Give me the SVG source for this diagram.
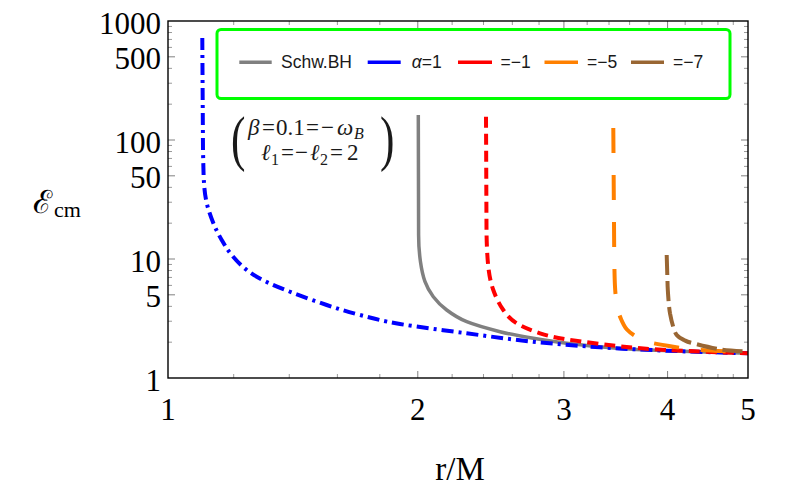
<svg xmlns="http://www.w3.org/2000/svg" width="789" height="489" viewBox="0 0 789 489">
<style>
.tm{stroke:#9a9a9a;stroke-width:1;fill:none}
.tM{stroke:#808080;stroke-width:1;fill:none}
.num{font-family:"Liberation Serif","DejaVu Serif",serif;font-size:31px;fill:#000}
.ylab{text-anchor:end}
.xlab{text-anchor:middle}
.crv{fill:none;stroke-linecap:butt;stroke-linejoin:round}
.leg{font-family:"Liberation Sans",Arial,sans-serif;font-size:17.5px;fill:#1a1a1a}
.ann{font-family:"Liberation Serif","DejaVu Serif",serif;font-size:23px;fill:#1a1a1a}
.par{font-family:"Liberation Serif","DejaVu Serif",serif;font-size:62px;fill:#1a1a1a}
.it{font-style:italic}
.sub{font-size:16px}
</style>
<defs>
<clipPath id="plotclip"><rect x="168" y="21" width="580" height="357"/></clipPath>
</defs>
<rect width="789" height="489" fill="#fff"/>

<g id="ticks">
<path class="tm" d="M168,342.18h4M168,321.22h4M168,306.35h4M168,285.4h4M168,277.43h4M168,270.53h4M168,264.45h4M168,223.18h4M168,202.22h4M168,187.35h4M168,166.4h4M168,158.43h4M168,151.53h4M168,145.45h4M168,104.18h4M168,83.22h4M168,68.35h4M168,47.4h4M168,39.43h4M168,32.53h4M168,26.45h4"/>
<path class="tM" d="M168,294.82h7M168,259h7M168,175.82h7M168,140h7M168,56.82h7"/>
<path class="tm" d="M748,342.18h-4M748,321.22h-4M748,306.35h-4M748,285.4h-4M748,277.43h-4M748,270.53h-4M748,264.45h-4M748,223.18h-4M748,202.22h-4M748,187.35h-4M748,166.4h-4M748,158.43h-4M748,151.53h-4M748,145.45h-4M748,104.18h-4M748,83.22h-4M748,68.35h-4M748,47.4h-4M748,39.43h-4M748,32.53h-4M748,26.45h-4"/>
<path class="tM" d="M748,294.82h-7M748,259h-7M748,175.82h-7M748,140h-7M748,56.82h-7"/>
<path class="tm" d="M233.7,378v-4M289.26,378v-4M337.38,378v-4M379.82,378v-4M452.14,378v-4M483.49,378v-4M512.34,378v-4M539.04,378v-4M587.16,378v-4M609.01,378v-4M629.61,378v-4M649.09,378v-4M685.16,378v-4M701.93,378v-4M717.95,378v-4M733.28,378v-4"/>
<path class="tM" d="M417.79,378v-7M563.91,378v-7M667.58,378v-7"/>
<path class="tm" d="M233.7,21v4M289.26,21v4M337.38,21v4M379.82,21v4M452.14,21v4M483.49,21v4M512.34,21v4M539.04,21v4M587.16,21v4M609.01,21v4M629.61,21v4M649.09,21v4M685.16,21v4M701.93,21v4M717.95,21v4M733.28,21v4"/>
<path class="tM" d="M417.79,21v7M563.91,21v7M667.58,21v7"/>
</g>

<g id="axis-labels">
<text class="num ylab" x="161" y="33.5">1000</text>
<text class="num ylab" x="161" y="68.5">500</text>
<text class="num ylab" x="161" y="152.5">100</text>
<text class="num ylab" x="161" y="188">50</text>
<text class="num ylab" x="161" y="272">10</text>
<text class="num ylab" x="161" y="307">5</text>
<text class="num ylab" x="161" y="391">1</text>
<text class="num xlab" x="168" y="420">1</text>
<text class="num xlab" x="417.8" y="420">2</text>
<text class="num xlab" x="563.9" y="420">3</text>
<text class="num xlab" x="667.6" y="420">4</text>
<text class="num xlab" x="748" y="420">5</text>
<text id="xlabel" x="460" y="480" text-anchor="middle" font-family="Liberation Serif, DejaVu Serif, serif" font-size="33" fill="#000">r/M</text>
<text id="ylabel" x="33" y="213" font-family="Liberation Serif, DejaVu Serif, serif" font-size="32" fill="#000">ℰ<tspan x="54" y="217" font-size="22">cm</tspan></text>
</g>

<g id="connectors" clip-path="url(#plotclip)">
<path id="curve-schw" class="crv" stroke="#808080" stroke-width="3.5" d="M418.3,115L418.6,235C418.6,245 419.4,254.2 420.5,262C421.6,269.8 422.9,275.9 425,281.7C427.1,287.5 429.7,292 433.3,296.7C436.9,301.4 441.1,305.8 446.7,310C452.3,314.2 457.8,318.1 466.7,321.7C475.6,325.3 488.9,328.9 500,331.7C511.1,334.5 522.2,336.4 533.3,338.3C544.4,340.2 552.8,341.6 566.7,343.3C580.6,345 600,347.1 616.7,348.3C633.4,349.5 645,349.9 666.7,350.7C688.4,351.5 733.4,352.9 750,353.4"/>
<path id="curve-alpha1" class="crv" stroke="#0000ff" stroke-width="4" stroke-dasharray="12 5 3 5" d="M202.3,38L203,150C203.3,162 203.4,174.2 204,183C204.6,191.8 205.2,196.3 206.7,203C208.3,209.7 210.8,216.8 213.3,223C215.8,229.2 218.6,234.7 221.7,240C224.8,245.3 227.5,250 231.7,255C235.9,260 240.9,265.5 246.7,270C252.5,274.5 258.9,278.2 266.7,282C274.5,285.8 283.3,289.2 293.3,293C303.3,296.8 315.6,301.3 326.7,305C337.8,308.7 347.8,311.8 360,315C372.2,318.2 382.2,321 400,324C417.8,327 444.5,330.4 466.7,333.3C488.9,336.3 510.8,339.4 533,341.7C555.2,344 577.7,345.8 600,347.3C622.3,348.8 642.3,349.7 666.7,350.7C691.1,351.7 733.4,352.9 750,353.4"/>
<path id="curve-m1" class="crv" stroke="#ff0000" stroke-width="4" stroke-dasharray="11 6" d="M486,116.7L486.5,230C486.6,242 487.2,256.7 488.3,266.7C489.4,276.7 490.8,282.8 493.3,290C495.8,297.2 499.4,304.5 503.3,310C507.2,315.5 510.6,319.4 516.7,323.3C522.8,327.2 531.7,330.6 540,333.3C548.3,336 553.9,337.2 566.7,339.3C579.5,341.4 600,344.2 616.7,346C633.4,347.8 645,348.8 666.7,350C688.4,351.2 733.4,352.8 750,353.4"/>
<path id="curve-m5" class="crv" stroke="#ff8000" stroke-width="4" stroke-dasharray="25 22" d="M613.3,128L614.2,250C614.3,262 614.5,277.3 615,286.7C615.5,296.1 616.3,301.3 617.3,306.7C618.3,312.1 619.4,315.2 621,319C622.6,322.8 624.2,326.4 626.7,329.3C629.2,332.2 632.7,334.4 636,336.5C639.3,338.6 640.5,340 646.7,341.7C652.9,343.4 664.4,345.3 673.3,346.7C682.2,348.1 687.8,349.1 700,350C712.2,350.9 738.9,351.9 750,352.4"/>
<path id="curve-m7" class="crv" stroke="#996633" stroke-width="4" stroke-dasharray="20 6" d="M666.7,255L667.5,282C667.6,288 668.1,294.8 668.5,300C668.9,305.2 669.3,309 670,313.3C670.8,317.6 671.9,322.4 673,326C674.1,329.6 674.9,332.7 676.7,335C678.5,337.3 681.2,338.6 684,340C686.8,341.4 687.3,341.8 693.3,343.3C699.3,344.9 711.1,347.9 720,349.3C728.9,350.7 742.2,351.3 750,351.8"/>
</g>

<rect id="frame" x="168" y="21" width="580" height="357" fill="none" stroke="#000" stroke-width="1.4"/>

<g id="legend">
<rect x="217" y="29.5" width="513" height="69" rx="4" fill="#fff" stroke="#00ff00" stroke-width="3"/>
<g id="leg-schw"><line x1="239.3" y1="62.3" x2="271.7" y2="62.3" stroke="#808080" stroke-width="3.5"/><text class="leg" x="281" y="68">Schw.BH</text></g>
<g id="leg-alpha1"><line x1="367.7" y1="62.3" x2="400.7" y2="62.3" stroke="#0000ff" stroke-width="3.5"/><text class="leg" x="411.7" y="68"><tspan class="it">α</tspan>=1</text></g>
<g id="leg-m1"><line x1="458" y1="62.3" x2="492" y2="62.3" stroke="#ff0000" stroke-width="3.5"/><text class="leg" x="500.5" y="68">=−1</text></g>
<g id="leg-m5"><line x1="544.5" y1="62.3" x2="578" y2="62.3" stroke="#ff8000" stroke-width="3.5"/><text class="leg" x="587" y="68">=−5</text></g>
<g id="leg-m7"><line x1="631" y1="62.3" x2="664" y2="62.3" stroke="#996633" stroke-width="3.5"/><text class="leg" x="673" y="68">=−7</text></g>
</g>

<g id="annotation">
<text class="par" transform="translate(231,159) scale(0.7,1)">(</text>
<text class="par" transform="translate(380,159) scale(0.7,1)">)</text>
<text class="ann" y="135"><tspan class="it" x="248">β</tspan><tspan x="262">=</tspan><tspan x="276">0.1</tspan><tspan x="306">=</tspan><tspan x="321">−</tspan><tspan class="it" x="337">ω</tspan><tspan class="it sub" x="354" y="139">B</tspan></text>
<text class="ann" y="160"><tspan class="it" x="261">ℓ</tspan><tspan class="sub" x="271" y="165">1</tspan><tspan x="281" y="160">=</tspan><tspan x="295">−</tspan><tspan class="it" x="310">ℓ</tspan><tspan class="sub" x="320" y="165">2</tspan><tspan x="330" y="160">=</tspan><tspan x="347">2</tspan></text>
</g>
</svg>
